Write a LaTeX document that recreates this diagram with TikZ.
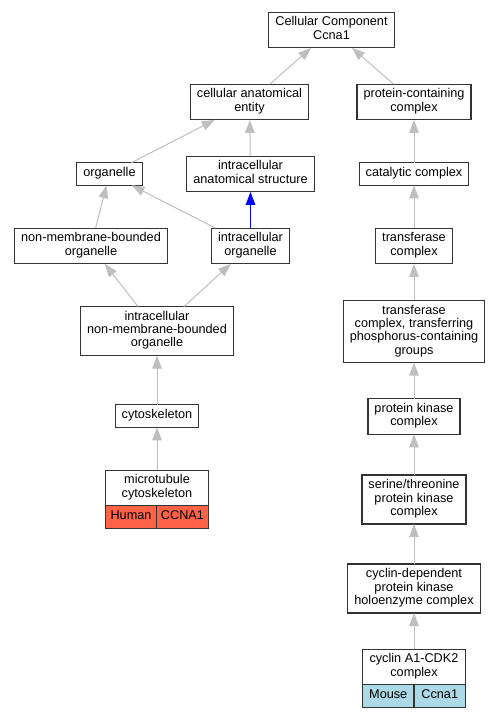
\documentclass[tikz,border=0pt]{standalone}
\usepackage{fontspec}
\setmainfont{Liberation Sans}
\usetikzlibrary{arrows.meta}
\definecolor{tomato}{HTML}{FF6347}
\definecolor{lightblue}{HTML}{ADD8E6}
\tikzset{
  isa/.style={draw=black!25, line width=1pt, -{Triangle[length=13pt, width=9.5pt]}},
  cell/.style={anchor=north west, inner xsep=1pt}
}
\begin{document}
\begin{tikzpicture}[x=1pt, y=-1pt, node distance=72pt,
    every node/.style={draw=black!80, line width=1.1pt, outer sep=0pt, align=center,
      font=\fontsize{12.7}{13.3}\selectfont, inner xsep=6.5pt, inner ysep=4.6pt,
      execute at begin node=\strut, execute at end node=\strut}]
        \useasboundingbox (0,0) rectangle (501,717);

        \node (cc) at (331.5,30) {Cellular Component\\Ccna1};
        \node (cae) at (249.5,102) {cellular anatomical\\entity};
        \node (pcc) at (414,102) {protein-containing\\complex};
        \node (org) at (109.5,174) {organelle};
        \node (ias) at (250.5,174) {intracellular\\anatomical structure};
        \node[below of=pcc] (cat) {catalytic complex};
        \node (nmbo) at (91,246) {non-membrane-bounded\\organelle};
        \node[below of=ias] (io) {intracellular\\organelle};
        \node[below of=cat] (tc) {transferase\\complex};
        \node (inmbo) at (157,331) {intracellular\\non-membrane-bounded\\organelle};
        \node[below of=tc, node distance=85.5pt] (tctpg) {transferase\\complex, transferring\\phosphorus-containing\\groups};
        \node[below of=inmbo, node distance=85pt] (cyto) {cytoskeleton};
        \node[below of=tctpg, node distance=85pt] (pkc) {protein kinase\\complex};
        \node[below of=cyto, node distance=72pt, minimum width=103pt] (mtc) {microtubule\\cytoskeleton};
        \node[below of=pkc, node distance=83pt] (stpk) {serine/threonine\\protein kinase\\complex};
        \node[below of=stpk, node distance=89pt] (cdk) {cyclin-dependent\\protein kinase\\holoenzyme complex};
        \node[below of=cdk, node distance=78.5pt, minimum width=103pt] (cyca) {cyclin A1-CDK2\\complex};

        % species / gene cells
        \node[cell, fill=tomato, minimum width=51pt] (human) at (mtc.south west) {Human};
        \node[cell, fill=tomato, minimum width=52pt] (hgene) at (human.north east) {CCNA1};
        \node[cell, fill=lightblue, minimum width=51.5pt] (mouse) at (cyca.south west) {Mouse};
        \node[cell, fill=lightblue, minimum width=51.5pt] (mgene) at (mouse.north east) {Ccna1};

        \draw[isa] (cae) -- (cc);
        \draw[isa] (pcc) -- (cc);
        \draw[isa] (org) -- (cae);
        \draw[isa] (ias) -- (cae);
        \draw[isa] (cat) -- (pcc);
        \draw[isa] (nmbo) -- (org);
        \draw[isa] (io) -- (org);
        \draw[isa, draw=blue] (io) -- (ias);
        \draw[isa] (tc) -- (cat);
        \draw[isa] (inmbo) -- (nmbo);
        \draw[isa] (inmbo) -- (io);
        \draw[isa] (tctpg) -- (tc);
        \draw[isa] (cyto) -- (inmbo);
        \draw[isa] (pkc) -- (tctpg);
        \draw[isa] (mtc) -- (cyto);
        \draw[isa] (stpk) -- (pkc);
        \draw[isa] (cdk) -- (stpk);
        \draw[isa] (cyca) -- (cdk);
      \end{tikzpicture}
\end{document}
